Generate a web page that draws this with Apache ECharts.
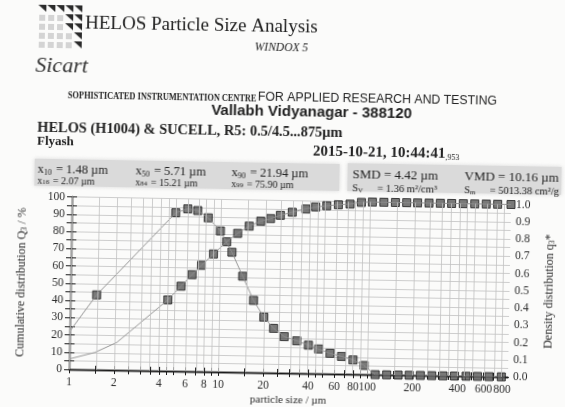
<!DOCTYPE html>
<html lang="en">
<head>
<meta charset="UTF-8">
<title>HELOS Particle Size Analysis</title>
<script src="https://cdn.jsdelivr.net/npm/echarts@6/dist/echarts.min.js"></script>
<style>
  html, body { margin: 0; padding: 0; background: #fbfbfa; overflow: hidden; }
  #main { width: 565px; height: 407px; transform: rotate(1deg); }
</style>
</head>
<body>
<div id="main"></div>
<script>
// cumulative distribution Q3 (%) at the R5 class upper edges (µm)
var cumSize = [4.5, 5.5, 6.5, 7.5, 9, 11, 13, 15.5, 18.5, 21.5, 25, 30, 37, 43, 51, 61, 73, 87,
               103, 123, 147, 175, 207, 247, 294, 350, 419, 500, 597, 712, 875];
var cumQ3 = [41.2, 49.3, 56.1, 61.6, 68.3, 75.5, 80.5, 84.8, 87.8, 89.4, 91.4, 93.3, 95.3, 96.6, 97.4, 98.1, 98.6, 99.7,
             100, 100, 100, 100, 100, 100, 100, 100, 100, 100, 100, 100, 100];
// curve below the first class edge (no squares there)
var cumLeadSize = [1, 1.48, 2.07];
var cumLeadQ3 = [6, 10, 16];

// density distribution q3* at the class centres
var densSize = [1.5, 4.97, 5.98, 6.98, 8.22, 9.95, 11.96, 14.2, 16.9, 19.9, 23.2, 27.4, 33.3, 39.9, 46.8, 55.8, 66.7, 79.7, 94.7,
                112.6, 134.5, 160.4, 190.4, 226.1, 269.5, 320.8, 383, 457.7, 546.3, 652, 789.3];
var densQ3 = [0.434, 0.918, 0.942, 0.933, 0.892, 0.817, 0.695, 0.557, 0.418, 0.322, 0.258, 0.211, 0.188, 0.164, 0.143, 0.119, 0.102, 0.083, 0.052,
              0, 0, 0, 0, 0, 0, 0, 0, 0, 0, 0, 0];
var densLeadSize = [1];
var densLeadQ3 = [0.22];

// axes
var xMin = 1, xMax = 875;
var xLabels = [1, 2, 4, 6, 8, 10, 20, 40, 60, 80, 100, 200, 400, 600, 800];
var xGrid = [1, 1.5, 2, 2.5, 3, 3.5, 4, 4.5, 5, 6, 7, 8, 9,
             10, 15, 20, 25, 30, 35, 40, 45, 50, 60, 70, 80, 90,
             100, 150, 200, 250, 300, 350, 400, 450, 500, 600, 700, 800];

var SERIF = '"Liberation Serif", "Times New Roman", serif';
var SANS = '"Liberation Sans", Arial, sans-serif';
var INK = '#222';

var lg = function (v) { return Math.log10(v); };
function pairs(xs, ys) {
    return xs.map(function (x, i) { return [lg(x), ys[i]]; });
}

function txt(x, y, text, font, extra) {
    var st = { text: text, font: font, fill: INK, align: 'left', verticalAlign: 'middle' };
    extra = extra || {};
    for (var k in extra.style || {}) st[k] = extra.style[k];
    return { type: 'text', x: x, y: y, scaleX: extra.scaleX || 1, silent: true, z: 10, style: st };
}

var sub = function (size) {
    return { font: size + 'px ' + SERIF, fill: INK, verticalAlign: 'bottom', padding: [0, 1, 0, 0] };
};
var statRich = function (big, small) {
    return { style: { rich: { m: { font: big + 'px ' + SERIF, fill: INK }, s: sub(small) } } };
};

// logo: saw-tooth triangles + light dotted cells
var logo = [];
for (var r = 0; r < 5; r++) {
    for (var c = 0; c < 5; c++) {
        var x0 = 35 + c * 9, y0 = 9 + r * 9;
        if (r === 0 || c === 4 || (c === 3 && r < 3)) {
            logo.push({ type: 'polygon', silent: true,
                shape: { points: [[x0, y0], [x0 + 8, y0], [x0 + 8, y0 + 7]] },
                style: { fill: '#2a2a2a' } });
        } else {
            logo.push({ type: 'rect', silent: true,
                shape: { x: x0 + 1, y: y0 + 1, width: 6, height: 6 },
                style: { fill: '#d4d4d4' } });
        }
    }
}

var header = [
    { type: 'rect', silent: true, shape: { x: 34, y: 163, width: 305, height: 27 },
      style: { fill: '#dadada', shadowBlur: 4, shadowColor: '#dadada' } },
    { type: 'rect', silent: true, shape: { x: 347, y: 162, width: 214, height: 28 },
      style: { fill: '#dadada', shadowBlur: 4, shadowColor: '#dadada' } },
    txt(82, 27, 'HELOS Particle Size Analysis', '19px ' + SERIF),
    txt(252, 48, 'WINDOX 5', 'italic 11.5px ' + SERIF),
    txt(33, 70, 'Sicart', 'italic 22px ' + SERIF, { style: { fill: '#333' } }),
    txt(66, 99, 'SOPHISTICATED INSTRUMENTATION CENTRE', 'bold 10.5px ' + SERIF, { scaleX: 0.79 }),
    txt(256, 98, 'FOR APPLIED RESEARCH AND TESTING', '12.3px ' + SANS),
    txt(310, 112, 'Vallabh Vidyanagar - 388120', 'bold 15px ' + SANS, { style: { align: 'center' } }),
    txt(36, 132, 'HELOS (H1004) & SUCELL, R5: 0.5/4.5...875µm', 'bold 14.4px ' + SERIF),
    txt(36, 146, 'Flyash', 'bold 13px ' + SERIF),
    txt(312, 151, '{m|2015-10-21, 10:44:41}{s|,953}', '', {
        style: { rich: { m: { font: 'bold 15px ' + SERIF, fill: INK }, s: sub(8) } } }),
    // statistics
    txt(37, 174, '{m|x}{s|10}{m| = 1.48 µm}', '', statRich(12.5, 8)),
    txt(37, 185, '{m|x}{s|16}{m| = 2.07 µm}', '', statRich(10, 7)),
    txt(135, 174, '{m|x}{s|50}{m| = 5.71 µm}', '', statRich(12.5, 8)),
    txt(135, 185, '{m|x}{s|84}{m| = 15.21 µm}', '', statRich(10, 7)),
    txt(231, 174, '{m|x}{s|90}{m| = 21.94 µm}', '', statRich(12.5, 8)),
    txt(231, 185, '{m|x}{s|99}{m| = 75.90 µm}', '', statRich(10, 7)),
    txt(352, 174, 'SMD = 4.42 µm', '13px ' + SERIF),
    txt(352, 187, '{m|S}{s|V}{m|     = 1.36 m²/cm³}', '', statRich(10.5, 7)),
    txt(464, 174, 'VMD = 10.16 µm', '13px ' + SERIF),
    txt(464, 187, '{m|S}{s|m}{m|     = 5013.38 cm²/g}', '', statRich(10.5, 7))
];

var gridLine = { color: '#c2c2c2', width: 0.8, type: 'solid' };
var frame = { color: '#1a1a1a', width: 1.3 };
var tickLine = { color: '#1a1a1a', width: 1 };
var labelFont = { fontFamily: SERIF, fontSize: 11.5, color: '#2a2a2a' };
var nameFont = { fontFamily: SERIF, fontSize: 12, color: '#2a2a2a',
    rich: { s: { fontFamily: SERIF, fontSize: 8, color: '#2a2a2a', verticalAlign: 'bottom' } } };
var square = { color: '#575757', borderColor: '#1c1c1c', borderWidth: 1 };

var chart = echarts.init(document.getElementById('main'));
chart.setOption({
    animation: false,
    backgroundColor: 'transparent',
    grid: { left: 72, top: 200.5, width: 442, height: 175.5 },
    graphic: logo.concat(header),
    xAxis: [{
        type: 'value', min: lg(xMin), max: lg(xMax),
        name: 'particle size / µm', nameLocation: 'middle', nameGap: 22,
        nameTextStyle: { fontFamily: SERIF, fontSize: 11, color: '#2a2a2a' },
        axisLine: { show: true, lineStyle: frame },
        axisTick: { show: true, inside: true, length: 4, lineStyle: tickLine, customValues: xGrid.map(lg) },
        axisLabel: Object.assign({ margin: 7, customValues: xLabels.map(lg),
            formatter: function (v) { return String(Math.round(Math.pow(10, v))); } }, labelFont),
        splitLine: { show: false }
    }, {
        type: 'value', position: 'top', min: lg(xMin), max: lg(xMax),
        axisLine: { show: true, lineStyle: frame },
        axisTick: { show: true, inside: true, length: 4, lineStyle: tickLine, customValues: xGrid.map(lg) },
        axisLabel: { show: false },
        splitLine: { show: false }
    }],
    yAxis: [{
        type: 'value', min: 0, max: 100, interval: 5,
        name: 'Cumulative distribution Q{s|3} / %', nameLocation: 'middle', nameGap: 43, nameRotate: 90,
        nameTextStyle: nameFont,
        axisLine: { show: true, lineStyle: frame },
        axisTick: { show: true, inside: true, length: 5, lineStyle: tickLine },
        axisLabel: Object.assign({ margin: 7,
            formatter: function (v) { return v % 10 === 0 ? String(v) : ''; } }, labelFont),
        splitLine: { show: true, lineStyle: gridLine }
    }, {
        type: 'value', min: 0, max: 1, interval: 0.05, position: 'right',
        name: 'Density distribution q{s|3}*', nameLocation: 'middle', nameGap: 34, nameRotate: 90,
        nameTextStyle: nameFont,
        axisLine: { show: true, lineStyle: frame },
        axisTick: { show: true, inside: true, length: 5, lineStyle: tickLine },
        axisLabel: Object.assign({ margin: 5,
            formatter: function (v) { return Math.round(v * 100) % 10 === 0 ? v.toFixed(1) : ''; } }, labelFont),
        splitLine: { show: false }
    }],
    series: [{
        name: 'Q3 curve', type: 'line', symbol: 'none', silent: true,
        lineStyle: { color: '#8c8c8c', width: 0.9 },
        data: pairs(cumLeadSize.concat(cumSize), cumLeadQ3.concat(cumQ3)),
        // vertical log-paper rulings
        markLine: {
            silent: true, symbol: ['none', 'none'], label: { show: false }, animation: false,
            lineStyle: gridLine,
            data: xGrid.map(function (v) { return { xAxis: lg(v) }; })
        }
    }, {
        name: 'q3 curve', type: 'line', symbol: 'none', silent: true, yAxisIndex: 1,
        lineStyle: { color: '#8c8c8c', width: 0.9 },
        data: pairs(densLeadSize.concat(densSize), densLeadQ3.concat(densQ3))
    }, {
        name: 'Q3', type: 'scatter', symbol: 'rect', symbolSize: 8, clip: false,
        itemStyle: square,
        data: pairs(cumSize, cumQ3)
    }, {
        name: 'q3*', type: 'scatter', symbol: 'rect', symbolSize: 8, clip: false, yAxisIndex: 1,
        itemStyle: square,
        data: pairs(densSize, densQ3)
    }]
});
</script>
</body>
</html>
